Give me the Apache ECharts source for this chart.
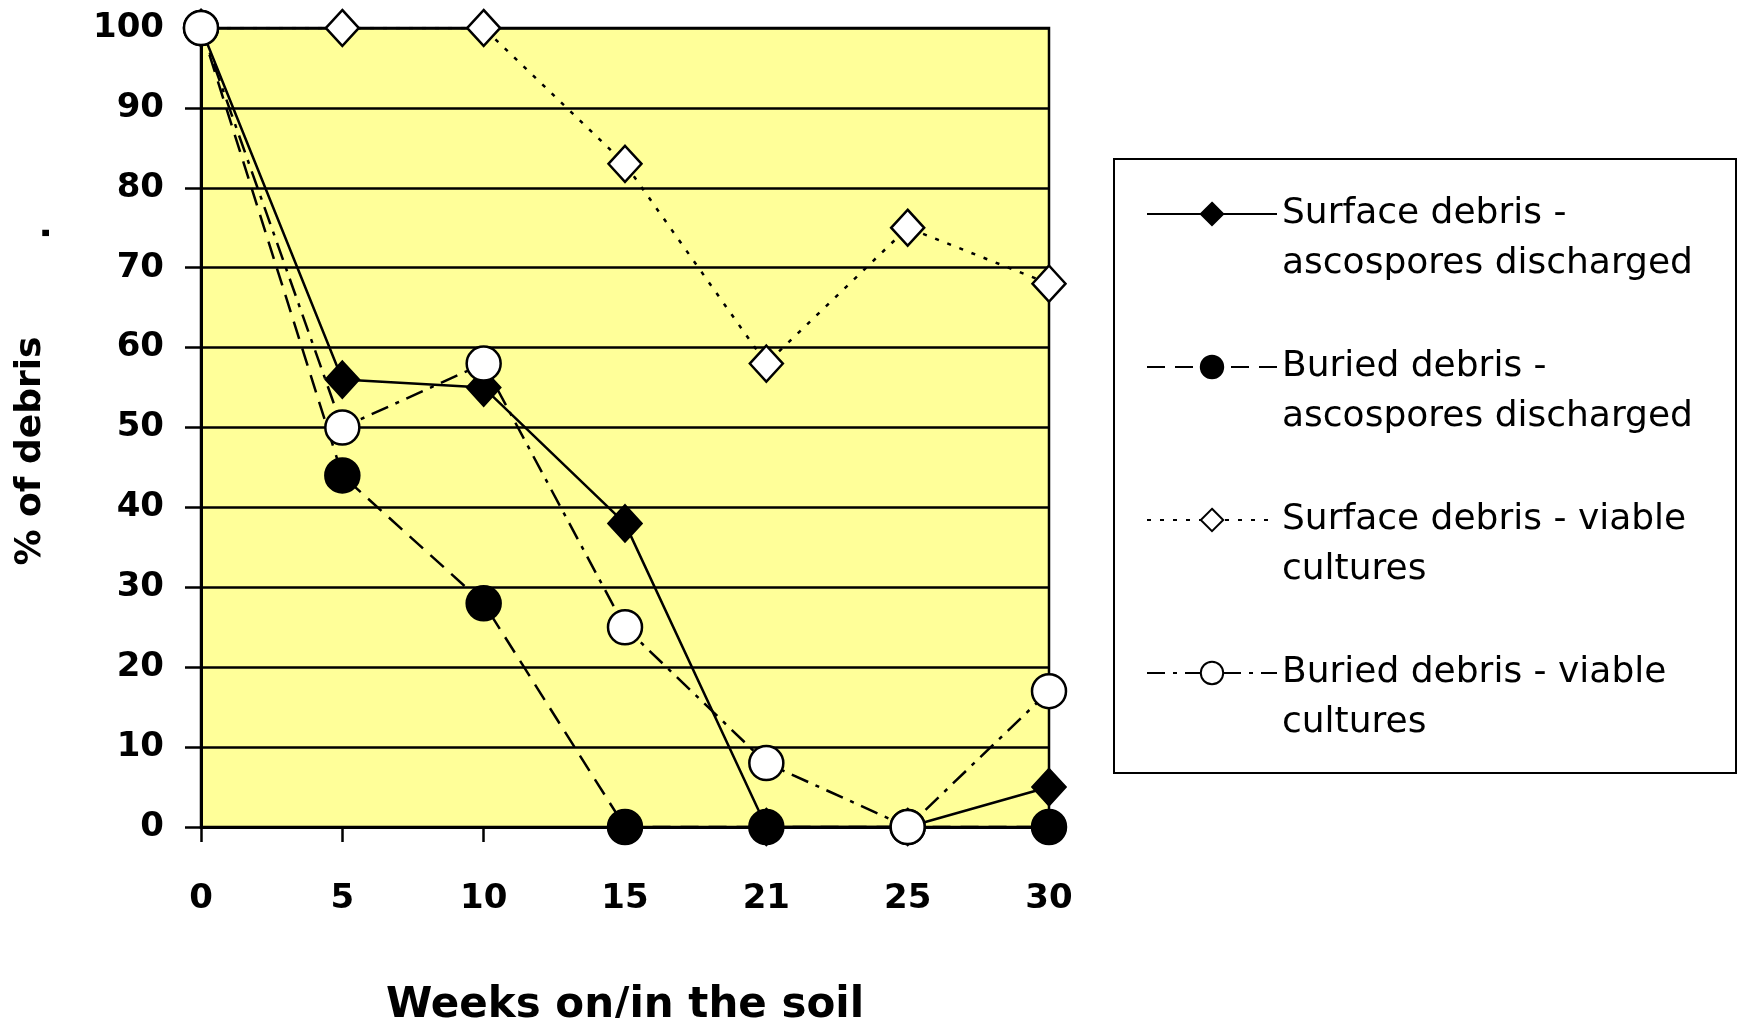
<!DOCTYPE html>
<html>
<head>
<meta charset="utf-8">
<script src="https://cdn.jsdelivr.net/npm/echarts@6/dist/echarts.min.js"></script>
<style>
  html, body { margin: 0; padding: 0; background: #ffffff; }
  #chart { width: 1743px; height: 1018px; }
</style>
</head>
<body>
<div id="chart"></div>
<script>
const weeks = ["0", "5", "10", "15", "21", "25", "30"];

const surfaceDischarged = [100, 56, 55, 38, 0, 0, 5];
const buriedDischarged = [100, 44, 28, 0, 0, 0, 0];
const surfaceViable = [100, 100, 100, 83, 58, 75, 68];
const buriedViable = [100, 50, 58, 25, 8, 0, 17];

const seriesNames = [
  "Surface debris - ascospores discharged",
  "Buried debris - ascospores discharged",
  "Surface debris - viable cultures",
  "Buried debris - viable cultures",
];
const legendLines = {
  "Surface debris - ascospores discharged": ["Surface debris -", "ascospores discharged"],
  "Buried debris - ascospores discharged": ["Buried debris -", "ascospores discharged"],
  "Surface debris - viable cultures": ["Surface debris - viable", "cultures"],
  "Buried debris - viable cultures": ["Buried debris - viable", "cultures"],
};

const FONT = "DejaVu Sans";

const chart = echarts.init(document.getElementById("chart"));

function lineSeries(name, data, opts) {
  return {
    name,
    type: "line",
    data,
    symbol: opts.symbol,
    symbolSize: opts.symbolSize,
    lineStyle: { color: "#000", width: 2.5, type: opts.dash },
    itemStyle: { color: opts.fill, borderColor: "#000", borderWidth: 2.5 },
    emphasis: { disabled: true },
    z: opts.z,
  };
}

chart.setOption({
  animation: false,
  backgroundColor: "#ffffff",
  grid: {
    left: 201,
    right: 694,
    top: 28,
    bottom: 191,
    containLabel: false,
    outerBoundsMode: "none",
    show: true,
    backgroundColor: "#ffff99",
    borderColor: "#000",
    borderWidth: 2.5,
  },
  legend: {
    data: seriesNames,
    orient: "vertical",
    left: 1146,
    top: 139,
    itemWidth: 130,
    itemHeight: 28,
    itemGap: 3,
    padding: 0,
    selectedMode: false,
    formatter: (name) => "\n" + legendLines[name].join("\n"),
    textStyle: { fontFamily: FONT, fontSize: 36, lineHeight: 50, color: "#000" },
  },
  xAxis: {
    type: "category",
    data: weeks,
    boundaryGap: false,
    name: "Weeks on/in the soil",
    nameLocation: "middle",
    nameGap: 158,
    nameTextStyle: { fontFamily: FONT, fontSize: 42, fontWeight: "bold", color: "#000" },
    axisLine: { lineStyle: { color: "#000", width: 3 } },
    axisTick: { show: true, length: 15, lineStyle: { color: "#000", width: 2.5 } },
    axisLabel: { margin: 55, fontFamily: FONT, fontSize: 34, fontWeight: "bold", color: "#000" },
    splitLine: { show: false },
  },
  yAxis: {
    type: "value",
    min: 0,
    max: 100,
    interval: 10,
    axisLine: { show: true, lineStyle: { color: "#000", width: 3 } },
    axisTick: { show: true, length: 16, lineStyle: { color: "#000", width: 2.5 } },
    axisLabel: { margin: 37, fontFamily: FONT, fontSize: 34, fontWeight: "bold", color: "#000" },
    splitLine: { show: true, lineStyle: { color: "#000", width: 2.5 } },
  },
  graphic: [
    {
      type: "rect",
      shape: { x: 1114, y: 159, width: 622, height: 614 },
      style: { fill: "transparent", stroke: "#000", lineWidth: 2 },
      silent: true,
    },
    {
      type: "text",
      x: 31,
      y: 451,
      rotation: Math.PI / 2,
      style: {
        text: "% of debris",
        x: 0,
        y: 0,
        align: "center",
        verticalAlign: "middle",
        font: "bold 36px " + FONT,
        fill: "#000",
      },
      silent: true,
    },
    {
      type: "text",
      x: 40,
      y: 233,
      rotation: Math.PI / 2,
      style: {
        text: ".",
        x: 0,
        y: 0,
        align: "center",
        verticalAlign: "middle",
        font: "bold 36px " + FONT,
        fill: "#000",
      },
      silent: true,
    },
  ],
  series: [
    lineSeries(seriesNames[0], surfaceDischarged, { symbol: "diamond", symbolSize: [33, 36], dash: "solid", fill: "#000", z: 2 }),
    lineSeries(seriesNames[1], buriedDischarged, { symbol: "circle", symbolSize: [34, 34], dash: [18, 10], fill: "#000", z: 3 }),
    lineSeries(seriesNames[2], surfaceViable, { symbol: "diamond", symbolSize: [33, 36], dash: [4, 9], fill: "#fff", z: 4 }),
    lineSeries(seriesNames[3], buriedViable, { symbol: "circle", symbolSize: [34, 34], dash: [18, 8, 4, 8], fill: "#fff", z: 5 }),
  ],
});
</script>
</body>
</html>
